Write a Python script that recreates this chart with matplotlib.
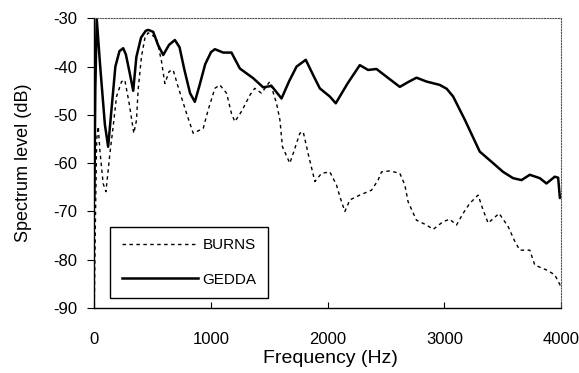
import matplotlib

matplotlib.use("Agg")
import matplotlib.pyplot as plt

plt.rcParams["font.family"] = ["Liberation Sans", "DejaVu Sans"]

# Spectrum levels (Hz, dB)
gedda_freq = [0, 8, 20, 50, 90, 118, 150, 180, 215, 247, 270, 300, 333, 360,
              400, 440, 461, 504, 545, 590, 640, 690, 730, 770, 820, 861, 900,
              950, 1000, 1033, 1104, 1175, 1247, 1361, 1447, 1518, 1604, 1670,
              1733, 1812, 1870, 1932, 2018, 2069, 2170, 2275, 2346, 2418,
              2504, 2618, 2690, 2761, 2847, 2961, 3020, 3075, 3175, 3303,
              3418, 3503, 3589, 3661, 3732, 3818, 3875, 3946, 3975, 3990, 4000]
gedda_level = [-67, -45, -30, -40, -52, -56.6, -48, -40, -36.8, -36.2, -37.5,
               -41, -45, -38, -34, -32.6, -32.4, -32.8, -35.5, -37.6, -35.5,
               -34.5, -36, -40.5, -45.5, -47.3, -44, -39.5, -37, -36.4, -37.1,
               -37.1, -40.4, -42.4, -44.3, -44, -46.6, -43, -40, -38.6, -41.5,
               -44.5, -46.2, -47.6, -43.5, -39.7, -40.7, -40.5, -42.1, -44.2,
               -43.2, -42.3, -43.1, -43.8, -44.6, -46.2, -51, -57.6, -60,
               -61.8, -63.1, -63.5, -62.4, -63.1, -64.2, -62.8, -63, -67.2, -67]

burns_freq = [0, 10, 20, 33, 47, 75, 99, 133, 161, 190, 233, 261, 298, 338,
              361, 375, 404, 433, 461, 533, 576, 604, 641, 675, 718, 790, 847,
              933, 975, 1033, 1075, 1133, 1175, 1204, 1261, 1333, 1375, 1432,
              1504, 1561, 1590, 1612, 1675, 1704, 1761, 1790, 1832, 1890,
              1947, 2018, 2075, 2104, 2147, 2190, 2275, 2375, 2432, 2461,
              2532, 2618, 2661, 2689, 2761, 2847, 2904, 2989, 3046, 3104,
              3160, 3218, 3289, 3332, 3375, 3469, 3546, 3604, 3646, 3732,
              3775, 3875, 3946, 4000]
burns_level = [-88, -70, -55, -52.4, -57.3, -64.2, -65.9, -58, -52.4, -46.2,
               -43.1, -42.8, -47.6, -53.8, -51.1, -44.8, -37.9, -34.1, -33,
               -34.1, -39, -43.5, -41, -40.7, -44.2, -49.7, -53.8, -52.8, -49,
               -44.5, -43.8, -45.5, -49.7, -51.4, -49.3, -45.9, -44.5, -45.5,
               -43.1, -47.6, -51, -56.6, -60, -58, -53.8, -53.5, -58, -63.8,
               -62.1, -61.8, -64.5, -66.9, -70, -67.6, -66.6, -65.6, -63.5,
               -61.8, -61.6, -62.1, -64.5, -68, -71.8, -72.8, -73.7, -72.1,
               -71.6, -72.8, -70.4, -68.3, -66.6, -69.7, -72.4, -70.4, -73.1,
               -76.2, -78, -78, -81.1, -82.1, -83.1, -85.6]

x_ticks = [0, 1000, 2000, 3000, 4000]
y_ticks = [-30, -40, -50, -60, -70, -80, -90]

fig = plt.figure(figsize=(5.79, 3.73), dpi=100)
ax = fig.add_axes([0.163, 0.174, 0.806, 0.777])

ax.plot(burns_freq, burns_level, color="black", lw=1.0,
        linestyle=(0, (2.5, 2.5)), label="BURNS")
ax.plot(gedda_freq, gedda_level, color="black", lw=1.8, label="GEDDA")

ax.set_xlim(0, 4000)
ax.set_ylim(-90, -30)
ax.set_xticks(x_ticks)
ax.set_yticks(y_ticks)
ax.set_yticklabels([str(v) for v in y_ticks])
ax.tick_params(axis="x", direction="in", length=4, labelsize=12, pad=17)
ax.tick_params(axis="y", direction="out", length=5, labelsize=12, pad=7)

for side in ("top", "right"):
    ax.spines[side].set_linestyle((0, (1, 1.5)))
    ax.spines[side].set_linewidth(0.8)
    ax.spines[side].set_color("#555555")
ax.spines["bottom"].set_linewidth(1.0)
ax.spines["left"].set_linewidth(1.0)

ax.set_xlabel("Frequency (Hz)", fontsize=14)
ax.set_ylabel("Spectrum level (dB)", fontsize=13)
ax.xaxis.set_label_coords(0.505, -0.143)
ax.yaxis.set_label_coords(-0.133, 0.5)

leg = ax.legend(loc="lower left", bbox_to_anchor=(0.034, 0.034),
                handlelength=5.0, handletextpad=0.3, fontsize=11,
                fancybox=False, framealpha=1, edgecolor="black",
                borderpad=0.75, labelspacing=1.35, borderaxespad=0)
leg.get_frame().set_linewidth(1.0)

fig.savefig("out.png", dpi=100)
